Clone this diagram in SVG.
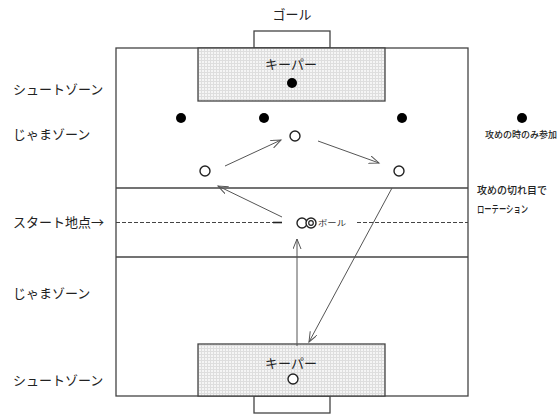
<svg xmlns="http://www.w3.org/2000/svg" width="557" height="416" viewBox="0 0 557 416">
<defs>
<pattern id="grid" width="3" height="3" patternUnits="userSpaceOnUse">
<rect width="3" height="3" fill="#f5f5f5"/>
<path d="M0,0.5 H3 M0.5,0 V3" stroke="#dedede" stroke-width="1" fill="none"/>
</pattern>
<marker id="arr" markerUnits="userSpaceOnUse" markerWidth="12" markerHeight="10" refX="10" refY="4" orient="auto" viewBox="0 0 12 10">
<path d="M0,0 L10,4 L0,8" fill="none" stroke="#555" stroke-width="1"/>
</marker>
</defs>
<style>
.line{stroke:#444;stroke-width:1.3;fill:none}
.box{stroke:#444;stroke-width:1.3;fill:url(#grid)}
.lbl{font-family:"Noto Sans CJK JP","Noto Sans",sans-serif;font-size:13px;fill:#222}
.sm{font-family:"Noto Sans CJK JP","Noto Sans",sans-serif;font-size:10px;fill:#222;font-weight:500}
.dot{fill:#000}
.ring{fill:#fff;stroke:#222;stroke-width:1.4}
.arrow{stroke:#555;stroke-width:1;fill:none;marker-end:url(#arr)}
</style>
<rect width="557" height="416" fill="#fff"/>
<g id="field">
<rect class="line" x="254" y="31" width="76" height="17" fill="#fff"/>
<rect class="line" x="254" y="396" width="76" height="17" fill="#fff"/>
<rect class="line" x="116" y="48" width="352" height="348"/>
<line class="line" x1="116" y1="188" x2="468" y2="188"/>
<line class="line" x1="116" y1="257" x2="468" y2="257"/>
<line x1="116" y1="222.5" x2="273" y2="222.5" stroke="#444" stroke-width="1" stroke-dasharray="4 2"/>
<line x1="273" y1="222.5" x2="282" y2="222.5" stroke="#222" stroke-width="1.6"/>
<line x1="357" y1="222.5" x2="468" y2="222.5" stroke="#444" stroke-width="1" stroke-dasharray="4 2"/>
</g>
<g id="keeper-top">
<rect class="box" x="198" y="48" width="187" height="53"/>
<text class="lbl" x="291" y="69" text-anchor="middle">キーパー</text>
<circle class="dot" cx="292" cy="83" r="5"/>
</g>
<g id="keeper-bottom">
<rect class="box" x="198" y="344" width="187" height="52"/>
<text class="lbl" x="291" y="368" text-anchor="middle">キーパー</text>
<circle class="ring" cx="293" cy="379" r="5"/>
</g>
<g id="labels">
<text class="lbl" x="292" y="19" text-anchor="middle">ゴール</text>
<text class="lbl" x="13" y="94">シュートゾーン</text>
<text class="lbl" x="13" y="139">じゃまゾーン</text>
<text class="lbl" x="13" y="227">スタート地点→</text>
<text class="lbl" x="13" y="298">じゃまゾーン</text>
<text class="lbl" x="13" y="385">シュートゾーン</text>
<text class="sm" x="477" y="194">攻めの切れ目で</text>
<text class="sm" x="477" y="213" textLength="51" lengthAdjust="spacingAndGlyphs">ローテーション</text>
<text class="sm" x="485" y="138" textLength="72" lengthAdjust="spacingAndGlyphs" style="font-size:9px">攻めの時のみ参加</text>
</g>
<g id="defenders">
<circle class="dot" cx="181" cy="118" r="5"/>
<circle class="dot" cx="264" cy="118" r="5"/>
<circle class="dot" cx="402" cy="118" r="5"/>
<circle class="dot" cx="522" cy="118" r="5"/>
</g>
<g id="attackers">
<circle class="ring" cx="295" cy="136" r="5"/>
<circle class="ring" cx="205" cy="171" r="5"/>
<circle class="ring" cx="399" cy="171" r="5"/>
<circle class="ring" cx="302" cy="223" r="5"/>
</g>
<g id="ball">
<circle class="ring" cx="311" cy="223" r="5"/>
<circle fill="none" stroke="#222" stroke-width="1.2" cx="311" cy="223" r="2.3"/>
<text x="318" y="226" style="font-family:'Noto Sans CJK JP',sans-serif;font-size:8px;fill:#333" textLength="28" lengthAdjust="spacingAndGlyphs">ボール</text>
</g>
<g id="connectors">
<line class="arrow" x1="225" y1="166" x2="281" y2="140"/>
<line class="arrow" x1="318" y1="141" x2="379" y2="163"/>
<line class="arrow" x1="282" y1="217" x2="218" y2="186"/>
<line class="arrow" x1="297" y1="346" x2="297" y2="239"/>
<line class="arrow" x1="392" y1="188" x2="309" y2="342"/>
</g>
</svg>
